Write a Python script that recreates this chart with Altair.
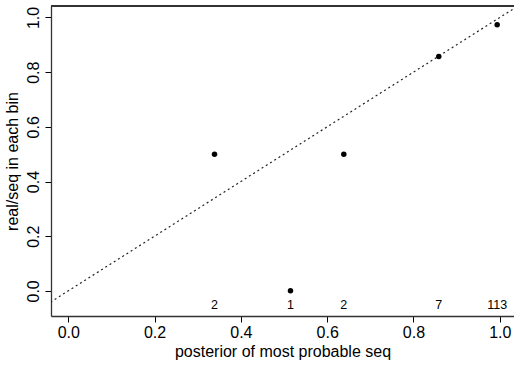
import altair as alt
import pandas as pd

# data
bin_x = [0.339, 0.515, 0.6386, 0.8587, 0.994]
bin_y = [0.5, 0.0, 0.5, 0.857, 0.973]
bin_n = ["2", "1", "2", "7", "113"]
label_y = [-0.05] * 5
diag = [-0.1, 1.1]

pts = pd.DataFrame({"x": bin_x, "y": bin_y})
lab = pd.DataFrame({"x": bin_x, "y": label_y, "n": bin_n})
dg = pd.DataFrame({"x": diag, "y": diag})

W, H = 463, 310
FONT = "Liberation Sans"

xs = alt.Scale(domain=[-0.04, 1.033], nice=False, zero=False)
ys = alt.Scale(domain=[-0.092, 1.042], nice=False, zero=False)

xax = alt.Axis(values=[0, 0.2, 0.4, 0.6, 0.8, 1.0], format=".1f", grid=False,
               title="posterior of most probable seq", labelFont=FONT, titleFont=FONT,
               labelFontSize=16, titleFontSize=16, labelColor="black", titleColor="black",
               titleFontWeight="normal", tickSize=6, tickColor="black", domainColor="#333",
               domainWidth=1.3, labelPadding=2, titlePadding=3, labelFlush=False)
yax = alt.Axis(values=[0, 0.2, 0.4, 0.6, 0.8, 1.0], format=".1f", grid=False,
               title="real/seq in each bin", labelFont=FONT, titleFont=FONT,
               labelFontSize=16, titleFontSize=16, labelColor="black", titleColor="black",
               titleFontWeight="normal", tickSize=6, tickColor="black", domainColor="#333",
               domainWidth=1.3, labelAngle=-90, labelAlign="center", labelBaseline="bottom",
               labelPadding=4, titlePadding=5, labelFlush=False)

line = alt.Chart(dg).mark_line(clip=True, color="#222", strokeDash=[2, 3], strokeWidth=1.2).encode(
    x=alt.X("x:Q", scale=xs, axis=xax), y=alt.Y("y:Q", scale=ys, axis=yax))
dots = alt.Chart(pts).mark_circle(color="black", opacity=1, size=30).encode(
    x=alt.X("x:Q", scale=xs), y=alt.Y("y:Q", scale=ys))
txt = alt.Chart(lab).mark_text(font=FONT, fontSize=12.5, color="black", baseline="middle").encode(
    x=alt.X("x:Q", scale=xs), y=alt.Y("y:Q", scale=ys), text="n:N")
top = alt.Chart(pts).mark_rule(color="#333", strokeWidth=1.3).encode(
    x=alt.value(0), x2=alt.value(W), y=alt.value(0))

chart = alt.layer(line, dots, txt, top).properties(
    width=W, height=H,
    autosize=alt.AutoSizeParams(type="none"),
    padding={"left": 51, "top": 6, "right": 0, "bottom": 50},
).configure_view(stroke=None).configure(background="white")

chart.save("out.html", embed_options={"renderer": "svg", "actions": False})
